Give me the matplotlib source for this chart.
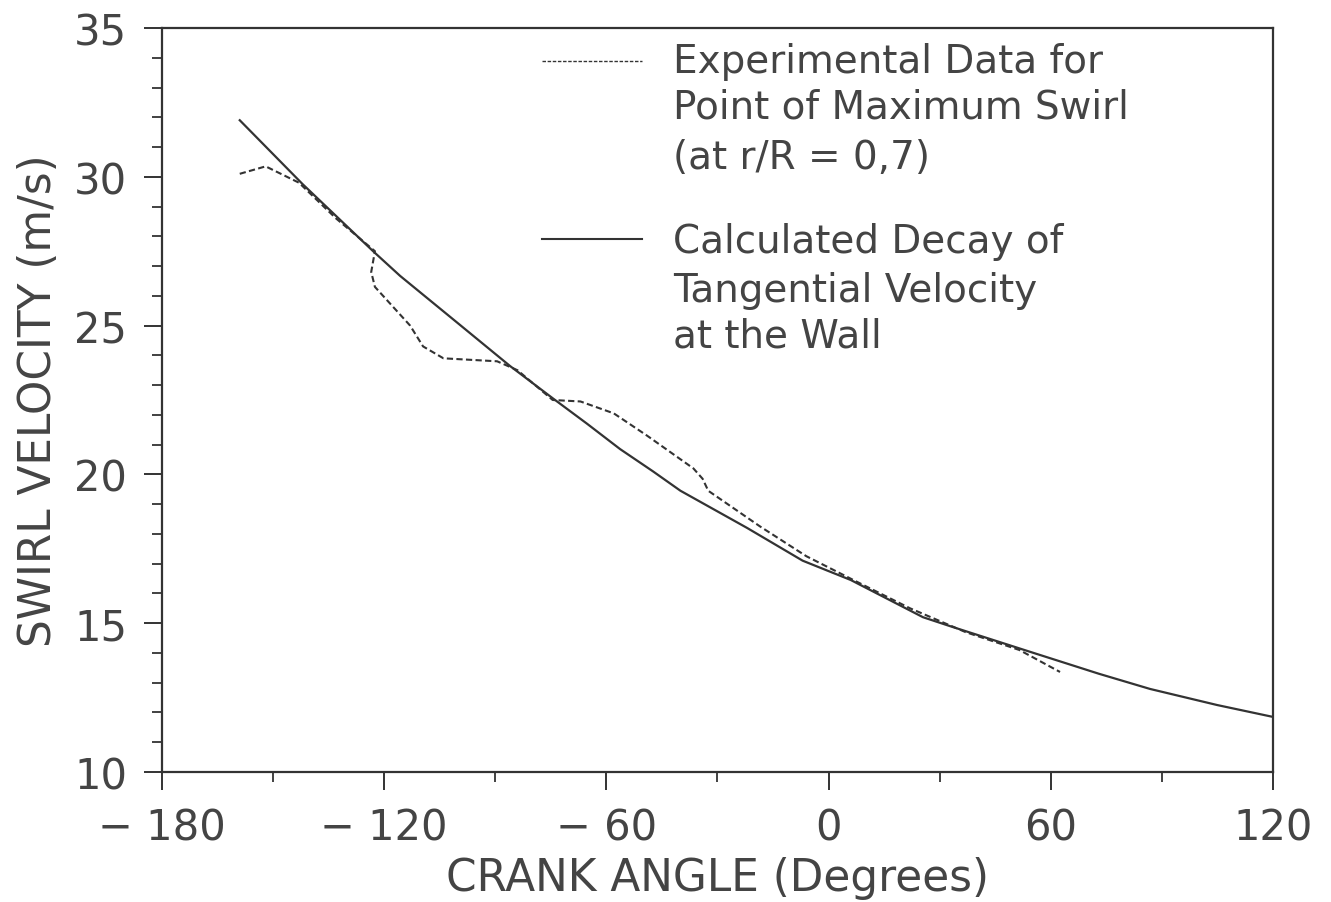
import matplotlib
matplotlib.use('Agg')
import matplotlib.pyplot as plt
from matplotlib.ticker import MultipleLocator

# calculated decay of tangential velocity at the wall
calc_angle = [-159, -142, -123, -115.7, -100, -86, -74.4, -65.2, -56.3, -47.4,
              -40, -22, -7, 6, 25.5, 32.8, 53.6, 73, 86.8, 104.9, 120]
calc_vel = [31.9, 29.75, 27.5, 26.67, 25.07, 23.64, 22.55, 21.7, 20.85, 20.1,
            19.45, 18.2, 17.1, 16.45, 15.2, 14.9, 14.07, 13.3, 12.79, 12.25, 11.85]

# experimental data, point of maximum swirl (r/R = 0,7)
exp_angle = [-159, -152, -143, -133, -122.5, -123.5, -122.5, -113, -109.5, -104,
             -89.5, -84, -74.5, -67, -58, -49, -36.5, -34, -32.5, -18.5, -6,
             7.5, 22, 37, 51.5, 62.5]
exp_vel = [30.1, 30.35, 29.8, 28.6, 27.5, 26.8, 26.3, 25.0, 24.3, 23.9,
           23.8, 23.5, 22.5, 22.45, 22.05, 21.3, 20.2, 19.85, 19.45, 18.25, 17.25,
           16.4, 15.5, 14.7, 14.1, 13.36]

xticks = [-180, -120, -60, 0, 60, 120]
xtick_labels = ['\u2212 180', '\u2212 120', '\u2212 60', '0', '60', '120']
yticks = [10, 15, 20, 25, 30, 35]

ink = '#333333'
txt = '#444444'

fig = plt.figure(figsize=(13.31, 9.03), dpi=100)
ax = fig.add_axes([0.1217, 0.1440, 0.8347, 0.8239])

ax.plot(calc_angle, calc_vel, color=ink, lw=1.6)
ax.plot(exp_angle, exp_vel, color=ink, lw=1.5, linestyle=(0, (3, 1.6)))

ax.set_xlim(-180, 120)
ax.set_ylim(10, 35)
ax.set_xticks(xticks)
ax.set_xticklabels(xtick_labels)
ax.set_yticks(yticks)
ax.xaxis.set_minor_locator(MultipleLocator(30))
ax.yaxis.set_minor_locator(MultipleLocator(1))

ax.tick_params(which='major', direction='out', length=13, width=1.4, color=ink,
               labelsize=30, labelcolor=txt, pad=12)
ax.tick_params(which='minor', direction='out', length=7, width=1.3, color=ink)
for s in ax.spines.values():
    s.set_linewidth(1.6)
    s.set_color(ink)

ax.set_xlabel('CRANK ANGLE (Degrees)', fontsize=31.5, color=txt, labelpad=5)
ax.set_ylabel('SWIRL VELOCITY (m/s)', fontsize=31.5, color=txt, labelpad=10)

# legend drawn by hand
ax.plot([0.342, 0.432], [0.9556, 0.9556], transform=ax.transAxes,
        color=ink, lw=1.0, linestyle=(0, (2.5, 1.2)))
ax.plot([0.342, 0.432], [0.716, 0.716], transform=ax.transAxes,
        color=ink, lw=1.5)
lines1 = ['Experimental Data for', 'Point of Maximum Swirl', '(at r/R = 0,7)']
lines2 = ['Calculated Decay of', 'Tangential Velocity', 'at the Wall']
for ys, lines in (([0.9556, 0.895, 0.826], lines1), ([0.7137, 0.648, 0.586], lines2)):
    for y, s in zip(ys, lines):
        ax.text(0.46, y, s, transform=ax.transAxes, fontsize=28, color=txt,
                ha='left', va='center')

fig.savefig('out.png', dpi=100)
